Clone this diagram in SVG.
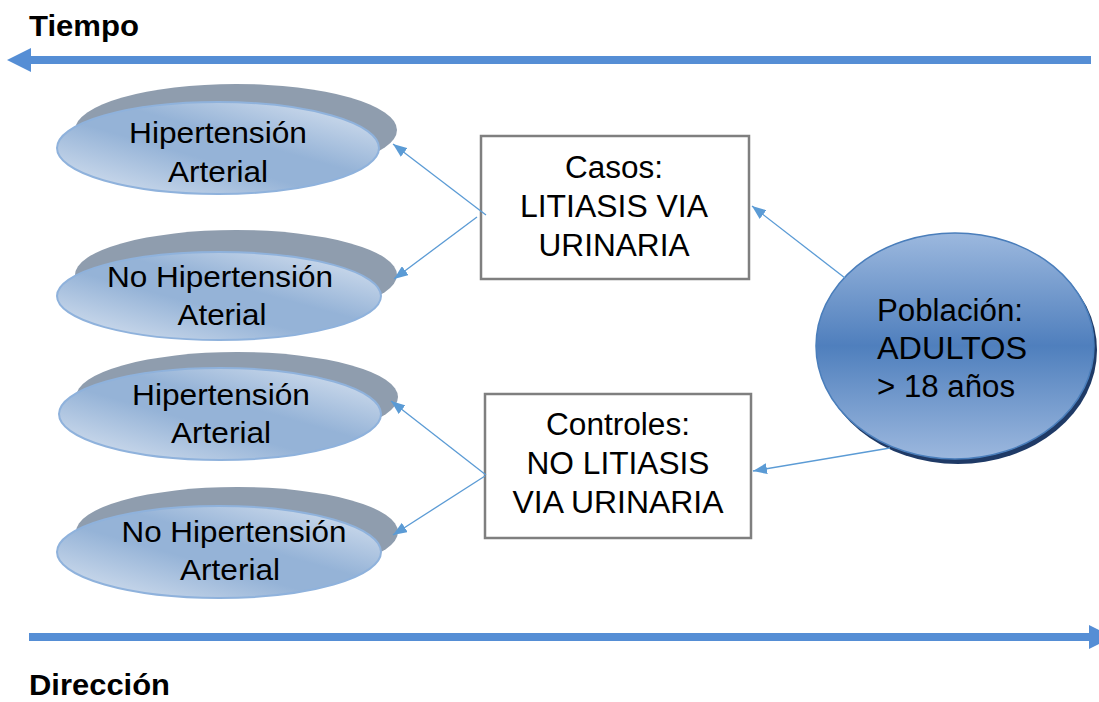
<svg xmlns="http://www.w3.org/2000/svg" width="1099" height="702" viewBox="0 0 1099 702">
<style>
  text { font-family: "Liberation Sans", Arial, sans-serif; fill: #000; }
  .title { font-size: 29px; font-weight: bold; }
  .lbl { font-size: 30px; text-anchor: middle; }
  .blbl { font-size: 31px; text-anchor: middle; }
  .plbl { font-size: 31px; }
  .shadow { fill: #8f9dae; }
  .oval { fill: url(#ovalGrad); stroke: #8fb2dc; stroke-width: 2; }
  .box { fill: #fff; stroke: #7f7f7f; stroke-width: 2.5; }
  .conn { stroke: #5b9bd5; stroke-width: 1.3; fill: none; marker-end: url(#arr); }
  .big { fill: #558ed5; }
</style>
<defs>
  <linearGradient id="ovalGrad" x1="0" y1="1" x2="1" y2="0">
    <stop offset="0" stop-color="#dde6f2"/>
    <stop offset="0.42" stop-color="#95b3d7"/>
    <stop offset="0.58" stop-color="#95b3d7"/>
    <stop offset="1" stop-color="#dde6f2"/>
  </linearGradient>
  <linearGradient id="popGrad" x1="0" y1="0" x2="0" y2="1">
    <stop offset="0" stop-color="#9cb8de"/>
    <stop offset="0.5" stop-color="#4f7fbd"/>
    <stop offset="1" stop-color="#9cb8de"/>
  </linearGradient>
  <marker id="arr" markerUnits="userSpaceOnUse" markerWidth="14" markerHeight="11" refX="14" refY="5.5" orient="auto">
    <path d="M0,0 L14,5.5 L0,11 z" fill="#5b9bd5"/>
  </marker>
</defs>

<g id="axes">
  <rect class="big" x="30" y="56" width="1061" height="8"/>
  <polygon class="big" points="7,60 31,48 31,72"/>
  <rect class="big" x="29" y="633" width="1062" height="8"/>
  <polygon class="big" points="1089,625 1089,649 1113,637"/>
  <text class="title" x="29" y="36" textLength="110" lengthAdjust="spacingAndGlyphs">Tiempo</text>
  <text class="title" x="29" y="695" textLength="141" lengthAdjust="spacingAndGlyphs">Dirección</text>
</g>

<g id="e1">
  <ellipse class="shadow" cx="236" cy="130" rx="161" ry="46"/>
  <ellipse class="oval" cx="218" cy="148" rx="161" ry="46"/>
  <text class="lbl" x="218" y="143" textLength="178" lengthAdjust="spacingAndGlyphs">Hipertensión</text>
  <text class="lbl" x="218" y="182" textLength="100" lengthAdjust="spacingAndGlyphs">Arterial</text>
</g>
<g id="e2">
  <ellipse class="shadow" cx="236" cy="275" rx="161" ry="45"/>
  <ellipse class="oval" cx="219" cy="296" rx="162" ry="44"/>
  <text class="lbl" x="220" y="287" textLength="226" lengthAdjust="spacingAndGlyphs">No Hipertensión</text>
  <text class="lbl" x="222" y="325" textLength="89" lengthAdjust="spacingAndGlyphs">Aterial</text>
</g>
<g id="e3">
  <ellipse class="shadow" cx="237" cy="397" rx="161" ry="45"/>
  <ellipse class="oval" cx="220" cy="414" rx="161" ry="46"/>
  <text class="lbl" x="221" y="405" textLength="178" lengthAdjust="spacingAndGlyphs">Hipertensión</text>
  <text class="lbl" x="221" y="443" textLength="100" lengthAdjust="spacingAndGlyphs">Arterial</text>
</g>
<g id="e4">
  <ellipse class="shadow" cx="237" cy="532" rx="161" ry="45"/>
  <ellipse class="oval" cx="219" cy="552" rx="162" ry="46"/>
  <text class="lbl" x="234" y="542" textLength="225" lengthAdjust="spacingAndGlyphs">No Hipertensión</text>
  <text class="lbl" x="230" y="580" textLength="100" lengthAdjust="spacingAndGlyphs">Arterial</text>
</g>

<g id="casos">
  <rect class="box" x="481" y="136" width="268" height="143"/>
  <text class="blbl" x="614" y="178" textLength="98" lengthAdjust="spacingAndGlyphs">Casos:</text>
  <text class="blbl" x="614" y="217" textLength="188" lengthAdjust="spacingAndGlyphs">LITIASIS VIA</text>
  <text class="blbl" x="614" y="256" textLength="151" lengthAdjust="spacingAndGlyphs">URINARIA</text>
</g>
<g id="controles">
  <rect class="box" x="485" y="394" width="266" height="144"/>
  <text class="blbl" x="618" y="435" textLength="144" lengthAdjust="spacingAndGlyphs">Controles:</text>
  <text class="blbl" x="618" y="474" textLength="183" lengthAdjust="spacingAndGlyphs">NO LITIASIS</text>
  <text class="blbl" x="618" y="513" textLength="211" lengthAdjust="spacingAndGlyphs">VIA URINARIA</text>
</g>

<g id="poblacion">
  <ellipse cx="958" cy="350" rx="139" ry="114" fill="#1f3a66"/>
  <ellipse cx="955" cy="346" rx="139" ry="113" fill="url(#popGrad)" stroke="#4a7ebb" stroke-width="1.5"/>
  <text class="plbl" x="877" y="321" textLength="146" lengthAdjust="spacingAndGlyphs">Población:</text>
  <text class="plbl" x="877" y="359" textLength="150" lengthAdjust="spacingAndGlyphs">ADULTOS</text>
  <text class="plbl" x="877" y="397" textLength="138" lengthAdjust="spacingAndGlyphs">&gt; 18 años</text>
</g>

<g id="connectors">
  <line class="conn" x1="486" y1="215" x2="393" y2="144"/>
  <line class="conn" x1="477" y1="217" x2="394" y2="279"/>
  <line class="conn" x1="486" y1="475" x2="391" y2="401"/>
  <line class="conn" x1="485" y1="476" x2="393" y2="535"/>
  <line class="conn" x1="845" y1="278" x2="752" y2="206"/>
  <line class="conn" x1="890" y1="448" x2="753" y2="471"/>
</g>
</svg>
